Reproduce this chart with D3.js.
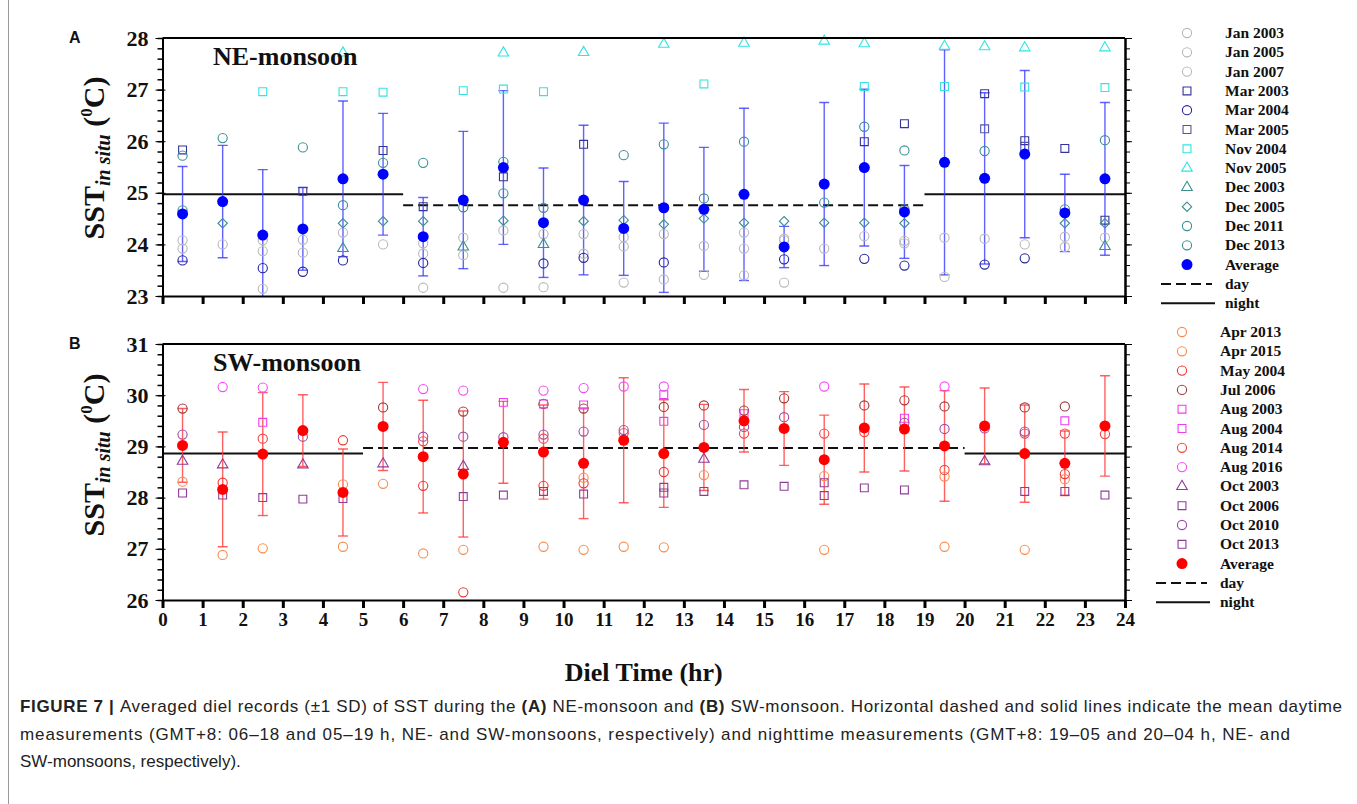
<!DOCTYPE html>
<html>
<head>
<meta charset="utf-8">
<script src="https://cdn.jsdelivr.net/npm/d3@7"></script>
<style>
  body { margin: 0; background: #fff; }
  svg text { font-family: "Liberation Serif", "Times New Roman", serif; font-weight: bold; fill: #111; }
  .caption text { font-family: "Liberation Sans Narrow", "Arial Narrow", "Liberation Sans", sans-serif; font-weight: normal; font-size: 17px; fill: #222; }
  .panel-letter { font-family: "Liberation Sans", Arial, sans-serif !important; }
</style>
</head>
<body>
<svg id="chart" width="1357" height="804"></svg>
<script>
// hours of the day (bin centres)
const hours = [0.5, 1.5, 2.5, 3.5, 4.5, 5.5, 6.5, 7.5, 8.5, 9.5, 10.5, 11.5,
  12.5, 13.5, 14.5, 15.5, 16.5, 17.5, 18.5, 19.5, 20.5, 21.5, 22.5, 23.5];
const xTicks = [0, 1, 2, 3, 4, 5, 6, 7, 8, 9, 10, 11, 12, 13, 14, 15, 16, 17, 18, 19, 20, 21, 22, 23, 24];
const yTicksA = [23, 24, 25, 26, 27, 28];
const yTicksB = [26, 27, 28, 29, 30, 31];

// ---- NE-monsoon (A) ----
const jan2003 = [24.08, 24.00, 24.08, 24.09, 24.23, 24.00, 24.02, 24.13, 24.27, 24.20, 24.20, 24.14, 24.20, 23.97, 24.23, 24.11, 23.92, 24.16, 24.07, 24.13, 24.11, 24.00, 24.15, 24.13];
const jan2005 = [23.92, null, 23.87, 23.84, null, null, 23.82, 23.79, null, null, 23.82, 23.96, null, null, 23.92, 24.08, null, null, 24.02, null, null, null, 23.95, null];
const jan2007 = [null, null, 23.14, null, null, null, 23.16, null, 23.16, 23.17, null, 23.26, 23.32, 23.41, 23.40, 23.26, null, null, null, 23.37, null, null, null, null];
const mar2003 = [25.83, null, null, 25.03, null, 25.82, 24.73, null, 25.31, null, 25.94, null, null, null, null, null, null, 25.99, 26.34, null, 26.92, 26.01, 25.86, 24.47];
const mar2004 = [23.69, null, 23.54, 23.47, 23.69, null, 23.64, null, null, 23.63, 23.74, null, 23.65, null, null, 23.71, null, 23.72, 23.59, null, 23.61, 23.73, null, null];
const mar2005 = [null, null, null, null, null, null, null, null, null, null, null, null, null, null, null, null, null, null, null, null, 26.24, 25.90, null, null];
const nov2004 = [null, null, 26.96, null, 26.96, 26.95, null, 26.98, 27.01, 26.96, null, null, null, 27.11, null, null, null, 27.06, null, 27.06, null, 27.05, null, 27.04];
const nov2005 = [null, null, null, null, 27.71, null, null, null, 27.71, null, 27.72, null, 27.88, null, 27.90, null, 27.94, 27.89, null, 27.84, 27.83, 27.81, null, 27.81];
const dec2003 = [null, null, null, null, 23.92, null, null, 23.95, null, 24.00, null, null, null, null, null, null, null, null, null, null, null, null, null, 23.96];
const dec2005 = [null, 24.41, null, null, 24.41, 24.45, 24.45, null, 24.46, null, 24.45, 24.47, 24.39, 24.50, 24.42, 24.45, 24.42, 24.42, 24.41, null, null, null, 24.41, 24.41];
const dec2011 = [25.72, 26.06, null, 25.88, 24.76, 25.58, 25.58, 24.72, 25.60, 24.71, null, 25.73, 25.94, 24.89, 25.99, null, 24.81, 26.28, 25.82, null, 25.81, null, 24.68, 26.02];
const dec2013 = [24.66, null, null, null, null, null, null, null, 24.99, null, null, null, null, null, null, null, null, null, 24.68, null, null, null, null, null];
const avgA = [24.59, 24.83, 24.18, 24.30, 25.27, 25.36, 24.15, 24.86, 25.49, 24.42, 24.86, 24.31, 24.71, 24.68, 24.97, 23.95, 25.17, 25.49, 24.63, 25.59, 25.28, 25.75, 24.61, 25.27];
const sdA = [0.92, 1.09, 1.27, 0.80, 1.51, 1.18, 0.76, 1.33, 1.49, 1.06, 1.45, 0.91, 1.64, 1.20, 1.67, 0.40, 1.58, 1.52, 0.90, 2.18, 1.66, 1.62, 0.75, 1.48];
// mean day / night levels: [start hour, end hour, value]
const periodsA = [[0, 6, 24.97, "night"], [6, 19, 24.76, "day"], [19, 24, 24.97, "night"]];

// ---- SW-monsoon (B) ----
const apr2013 = [28.31, null, null, null, 28.26, 28.27, null, null, null, null, 28.39, null, null, 28.44, null, null, 28.42, null, null, 28.41, null, null, 28.36, null];
const apr2015 = [null, 26.88, 27.01, null, 27.04, null, 26.91, 26.98, null, 27.04, 26.98, 27.04, 27.03, null, null, null, 26.98, null, null, 27.04, null, 26.98, null, null];
const may2004 = [null, 28.29, null, null, 29.12, null, 28.23, 26.15, null, 28.23, 28.28, null, 28.50, null, null, null, null, null, null, null, null, null, 28.46, null];
const jul2006 = [29.74, null, null, null, null, 29.76, null, 29.68, null, 29.83, 29.74, null, 29.77, 29.80, 29.70, 29.94, null, 29.80, 29.90, 29.78, null, 29.76, 29.78, null];
const aug2003 = [null, null, 29.47, null, null, null, null, null, 29.86, 29.83, 29.81, null, 30.01, null, 29.64, null, null, null, 29.55, null, null, null, 29.50, null];
const aug2004 = [null, null, null, null, null, null, null, null, null, null, null, null, 29.49, null, null, null, null, null, null, null, null, null, null, null];
const aug2014 = [null, null, 29.15, null, null, null, 29.10, null, null, 29.15, null, 29.26, null, null, 29.25, null, 29.25, 29.28, null, 28.54, null, 29.25, 29.25, 29.24];
const aug2016 = [null, 30.16, 30.15, null, null, null, 30.12, 30.09, null, 30.09, 30.14, 30.17, 30.17, null, null, null, 30.17, null, null, 30.17, null, null, null, null];
const oct2003 = [28.71, 28.64, null, 28.64, null, 28.66, null, 28.61, null, null, null, null, null, 28.75, null, null, null, null, null, null, 28.70, null, null, null];
const oct2006 = [28.09, 28.05, 28.00, 27.97, 27.98, null, null, 28.02, 28.05, 28.12, 28.07, null, 28.09, 28.12, 28.25, 28.22, 28.04, 28.19, 28.15, null, null, 28.12, 28.12, 28.05];
const oct2010 = [29.23, null, null, 29.19, null, null, 29.19, 29.19, 29.18, 29.23, 29.29, 29.32, null, 29.42, 29.38, 29.57, null, null, 29.46, 29.34, 29.35, 29.29, null, null];
const oct2013 = [null, null, null, null, null, null, null, null, null, null, null, null, 28.20, null, null, null, 28.29, null, null, null, null, null, null, null];
const avgB = [29.02, 28.16, 28.85, 29.31, 28.10, 29.39, 28.80, 28.46, 29.08, 28.89, 28.67, 29.12, 28.86, 28.98, 29.50, 29.35, 28.74, 29.36, 29.34, 29.01, 29.40, 28.86, 28.67, 29.40];
const sdB = [0.72, 1.12, 1.20, 0.70, 0.85, 0.86, 1.10, 1.23, 0.80, 0.92, 1.08, 1.22, 1.05, 0.84, 0.61, 0.72, 0.87, 0.86, 0.82, 1.08, 0.74, 0.95, 0.63, 0.98];
const periodsB = [[0, 5, 28.86, "night"], [5, 20, 28.97, "day"], [20, 24, 28.86, "night"]];

// series lists with their look
const seriesA = [
  { name: "Jan 2003", values: jan2003, shape: "circle", color: "#b9b9b9" },
  { name: "Jan 2005", values: jan2005, shape: "circle", color: "#b9b9b9" },
  { name: "Jan 2007", values: jan2007, shape: "circle", color: "#b9b9b9" },
  { name: "Mar 2003", values: mar2003, shape: "square", color: "#33339a" },
  { name: "Mar 2004", values: mar2004, shape: "circle", color: "#24249c" },
  { name: "Mar 2005", values: mar2005, shape: "square", color: "#5555a8" },
  { name: "Nov 2004", values: nov2004, shape: "square", color: "#33e3e3" },
  { name: "Nov 2005", values: nov2005, shape: "triangle", color: "#33e3e3" },
  { name: "Dec 2003", values: dec2003, shape: "triangle", color: "#3a9090" },
  { name: "Dec 2005", values: dec2005, shape: "diamond", color: "#3a9090" },
  { name: "Dec 2011", values: dec2011, shape: "circle", color: "#3a9090" },
  { name: "Dec 2013", values: dec2013, shape: "circle", color: "#3a9090" }
];
const seriesB = [
  { name: "Apr 2013", values: apr2013, shape: "circle", color: "#f98c4c" },
  { name: "Apr 2015", values: apr2015, shape: "circle", color: "#f98c4c" },
  { name: "May 2004", values: may2004, shape: "circle", color: "#f23535" },
  { name: "Jul 2006", values: jul2006, shape: "circle", color: "#9a3c3c" },
  { name: "Aug 2003", values: aug2003, shape: "square", color: "#f03cf0" },
  { name: "Aug 2004", values: aug2004, shape: "square", color: "#f03cf0" },
  { name: "Aug 2014", values: aug2014, shape: "circle", color: "#f24444" },
  { name: "Aug 2016", values: aug2016, shape: "circle", color: "#f848f8" },
  { name: "Oct 2003", values: oct2003, shape: "triangle", color: "#8e3c98" },
  { name: "Oct 2006", values: oct2006, shape: "square", color: "#8e3c98" },
  { name: "Oct 2010", values: oct2010, shape: "circle", color: "#9b4caa" },
  { name: "Oct 2013", values: oct2013, shape: "square", color: "#8e3c98" }
];

const W = 1357, H = 804;
const X0 = 162.5, X1 = 1125;
const svg = d3.select("#chart");

var x = d3.scaleLinear().domain([0, 24]).range([X0, X1]);

const symbols = {
  circle: d3.symbol().type(d3.symbolCircle).size(66),
  square: d3.symbol().type(d3.symbolSquare).size(62),
  triangle: d3.symbol().type(d3.symbolTriangle).size(48),
  diamond: d3.symbol().type(d3.symbolDiamond2).size(56)
};

// figure frame
svg.append("line").attr("x1", 8.5).attr("x2", 8.5).attr("y1", 0).attr("y2", H)
  .attr("stroke", "#9a9a9a").attr("stroke-width", 1);

function drawPanel(opt) {
  var y = d3.scaleLinear().domain(opt.domain).range([opt.bottom, opt.top]);
  var g = svg.append("g");

  g.append("clipPath").attr("id", "clip" + opt.id)
    .append("rect").attr("x", X0).attr("y", opt.top).attr("width", X1 - X0).attr("height", opt.bottom - opt.top);

  // mean day / night lines
  g.append("g").selectAll("line").data(opt.periods).enter().append("line")
    .attr("x1", (d) => x(d[0])).attr("x2", (d) => x(d[1]))
    .attr("y1", (d) => y(d[2])).attr("y2", (d) => y(d[2]))
    .attr("stroke", "#111").attr("stroke-width", 2)
    .attr("stroke-dasharray", (d) => (d[3] === "day" ? "10,5" : null));

  // error bars (+-1 SD)
  var eb = g.append("g").attr("clip-path", "url(#clip" + opt.id + ")")
    .attr("stroke", opt.barColor).attr("stroke-width", 1.4).attr("stroke-opacity", 0.8);
  hours.forEach((h, i) => {
    var lo = y(opt.avg[i] - opt.sd[i]), hi = y(opt.avg[i] + opt.sd[i]);
    eb.append("line").attr("x1", x(h)).attr("x2", x(h)).attr("y1", lo).attr("y2", hi);
    eb.append("line").attr("x1", x(h) - 5).attr("x2", x(h) + 5).attr("y1", lo).attr("y2", lo);
    eb.append("line").attr("x1", x(h) - 5).attr("x2", x(h) + 5).attr("y1", hi).attr("y2", hi);
  });

  // individual records
  opt.series.forEach((s) => {
    var pts = hours.map((h, i) => [h, s.values[i]]).filter((p) => p[1] != null);
    g.append("g").selectAll("path").data(pts).enter().append("path")
      .attr("d", symbols[s.shape])
      .attr("transform", (p) => "translate(" + x(p[0]) + "," + y(p[1]) + ")")
      .attr("fill", "none").attr("stroke", s.color).attr("stroke-width", 1.1);
  });

  // averages
  g.append("g").selectAll("circle").data(hours).enter().append("circle")
    .attr("cx", (h) => x(h)).attr("cy", (h, i) => y(opt.avg[i])).attr("r", 5.5)
    .attr("fill", opt.avgColor);

  // axes
  var minors = d3.range(opt.domain[0], opt.domain[1] + 0.001, 0.2).map((v) => +v.toFixed(1));
  var left = g.append("g").attr("transform", "translate(" + X0 + ",0)");
  left.call(d3.axisLeft(y).tickValues(minors).tickSize(5).tickSizeOuter(0).tickFormat(""));
  var leftMajor = g.append("g").attr("transform", "translate(" + X0 + ",0)")
    .call(d3.axisLeft(y).tickValues(opt.yTicks).tickSize(7).tickSizeOuter(0).tickPadding(7).tickFormat(d3.format("d")));
  leftMajor.selectAll(".tick line").attr("x1", 3);
  leftMajor.selectAll(".tick text").attr("font-size", 22).attr("font-family", "Liberation Serif, Times New Roman, serif").attr("font-weight", "bold");

  g.append("g").attr("transform", "translate(" + X1 + ",0)")
    .call(d3.axisRight(y).tickValues(minors).tickSize(5).tickSizeOuter(0).tickFormat(""));
  g.append("g").attr("transform", "translate(" + X1 + ",0)")
    .call(d3.axisRight(y).tickValues(opt.yTicks).tickSize(7).tickSizeOuter(0).tickFormat(""));

  var bottom = g.append("g").attr("transform", "translate(0," + opt.bottom + ")")
    .call(d3.axisBottom(x).tickValues(xTicks).tickSize(8).tickSizeOuter(0).tickPadding(5)
      .tickFormat(opt.showX ? d3.format("d") : ""));
  bottom.selectAll(".tick line").attr("stroke-width", 3);
  bottom.selectAll(".tick text").attr("font-size", 19).attr("font-family", "Liberation Serif, Times New Roman, serif").attr("font-weight", "bold");

  g.append("line").attr("x1", X0).attr("x2", X1).attr("y1", opt.top).attr("y2", opt.top)
    .attr("stroke", "#000").attr("stroke-width", 2);
  g.selectAll(".domain").attr("stroke", "#000").attr("stroke-width", 2);
  g.selectAll(".tick line").attr("stroke", "#000");
  left.selectAll(".tick line").attr("stroke-width", 1.5);

  // panel text
  g.append("text").attr("class", "panel-letter").attr("x", 69).attr("y", opt.top + 5)
    .attr("font-size", 16).text(opt.letter);
  g.append("text").attr("x", 213).attr("y", opt.top + 27).attr("font-size", 26).text(opt.title);

  var yt = g.append("text").attr("text-anchor", "middle")
    .attr("transform", "translate(104," + opt.labelY + ") rotate(-90)");
  yt.append("tspan").attr("font-size", 30).text("SST");
  yt.append("tspan").attr("font-size", 20).attr("font-style", "italic").attr("dy", 6).text("in situ");
  yt.append("tspan").attr("font-size", 30).attr("dy", -6).text(" (");
  yt.append("tspan").attr("font-size", 17).attr("dy", -12).text("0");
  yt.append("tspan").attr("font-size", 30).attr("dy", 12).text("C)");

  // legend
  var lg = g.append("g");
  opt.series.forEach((s, i) => {
    var ly = opt.legendTop + i * 19.3;
    lg.append("path").attr("d", symbols[s.shape]).attr("transform", "translate(" + opt.legendX + "," + ly + ")")
      .attr("fill", "none").attr("stroke", s.color).attr("stroke-width", 1.1);
    lg.append("text").attr("x", opt.legendX + 38).attr("y", ly + 5).attr("font-size", 15.5).text(s.name);
  });
  var n = opt.series.length;
  var ay = opt.legendTop + n * 19.3;
  lg.append("circle").attr("cx", opt.legendX).attr("cy", ay).attr("r", 5.5).attr("fill", opt.avgColor);
  lg.append("text").attr("x", opt.legendX + 38).attr("y", ay + 5).attr("font-size", 15.5).text("Average");
  var dy1 = ay + 19.3, dy2 = ay + 38.6;
  lg.append("line").attr("x1", opt.legendX - 26).attr("x2", opt.legendX + 25).attr("y1", dy1).attr("y2", dy1)
    .attr("stroke", "#111").attr("stroke-width", 2).attr("stroke-dasharray", "10,5");
  lg.append("text").attr("x", opt.legendX + 38).attr("y", dy1 + 5).attr("font-size", 15.5).text("day");
  lg.append("line").attr("x1", opt.legendX - 26).attr("x2", opt.legendX + 28).attr("y1", dy2).attr("y2", dy2)
    .attr("stroke", "#111").attr("stroke-width", 2);
  lg.append("text").attr("x", opt.legendX + 38).attr("y", dy2 + 5).attr("font-size", 15.5).text("night");
}

drawPanel({ id: "A", letter: "A", title: "NE-monsoon", domain: [23, 28], top: 38, bottom: 296,
  yTicks: yTicksA, series: seriesA, avg: avgA, sd: sdA, periods: periodsA,
  avgColor: "#0000ff", barColor: "#3a3aff", showX: false, labelY: 158, legendX: 1187, legendTop: 33 });
drawPanel({ id: "B", letter: "B", title: "SW-monsoon", domain: [26, 31], top: 344, bottom: 600,
  yTicks: yTicksB, series: seriesB, avg: avgB, sd: sdB, periods: periodsB,
  avgColor: "#ff0000", barColor: "#ff3a3a", showX: true, labelY: 455, legendX: 1182, legendTop: 332 });

// x axis title
svg.append("text").attr("x", (X0 + X1) / 2).attr("y", 681).attr("text-anchor", "middle")
  .attr("font-size", 26).text("Diel Time (hr)");

// caption
var cap = svg.append("g").attr("class", "caption");
var l1 = cap.append("text").attr("x", 20).attr("y", 712).attr("textLength", 1322).attr("lengthAdjust", "spacing");
l1.append("tspan").attr("font-weight", "bold").text("FIGURE 7 | ");
l1.append("tspan").text("Averaged diel records (\u00b11 SD) of SST during the ");
l1.append("tspan").attr("font-weight", "bold").text("(A)");
l1.append("tspan").text(" NE-monsoon and ");
l1.append("tspan").attr("font-weight", "bold").text("(B)");
l1.append("tspan").text(" SW-monsoon. Horizontal dashed and solid lines indicate the mean daytime");
cap.append("text").attr("x", 20).attr("y", 740).attr("textLength", 1270).attr("lengthAdjust", "spacing")
  .text("measurements (GMT+8: 06\u201318 and 05\u201319 h, NE- and SW-monsoons, respectively) and nighttime measurements (GMT+8: 19\u201305 and 20\u201304 h, NE- and");
cap.append("text").attr("x", 20).attr("y", 767).text("SW-monsoons, respectively).");
</script>
</body>
</html>
